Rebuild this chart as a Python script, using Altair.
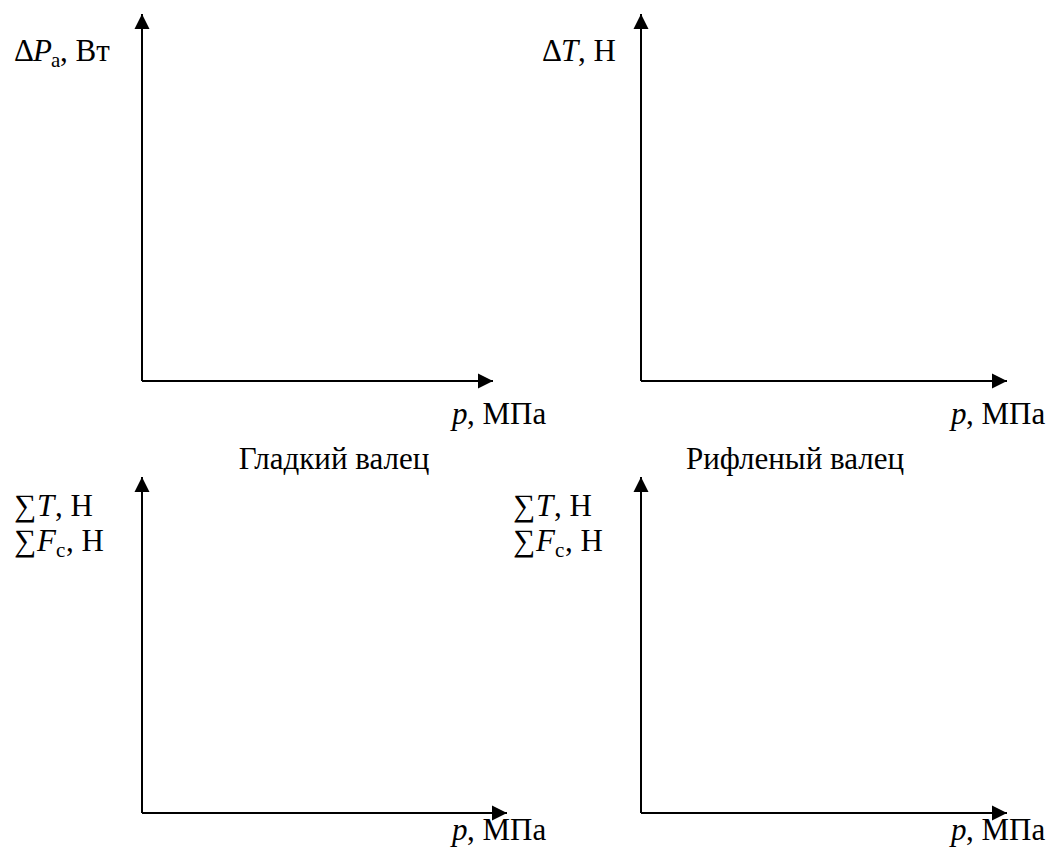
import altair as alt
import pandas as pd

W, H = 1056, 862
FONT = "'Liberation Serif', 'Times New Roman', 'DejaVu Serif', serif"
FS = 31   # main caption size
SUB = 21  # subscript size

# Two roll types shown as columns of the sheet
roll_titles = ["Гладкий валец", "Рифленый валец"]
title_x = [334, 795]
title_y = [469, 469]

# Blank coordinate frames: origin and the two arrow tips
frame_x0 = [142, 641, 142, 641]
frame_y0 = [381, 381, 813, 813]
frame_xtip = [493, 1007, 507, 1007]
frame_ytip = [14, 14, 477, 477]

# Axis captions, split into runs of upright / italic / subscript text
# (text, x, baseline, italic, font size)
caption_runs = [
    # ΔPa, Вт
    ("Δ", 14, 61, False, FS), ("P", 33, 61, True, FS), ("а", 51, 67, False, SUB), (", Вт", 60, 61, False, FS),
    # ΔT, Н
    ("Δ", 542, 61, False, FS), ("T", 561, 61, True, FS), (", Н", 578, 61, False, FS),
    # ∑T, Н / ∑Fc, Н  (left)
    ("∑", 14, 516, False, FS), ("T", 37, 516, True, FS), (", Н", 55, 516, False, FS),
    ("∑", 14, 551, False, FS), ("F", 37, 551, True, FS), ("с", 56, 557, False, SUB), (", Н", 66, 551, False, FS),
    # ∑T, Н / ∑Fc, Н  (right)
    ("∑", 513, 516, False, FS), ("T", 536, 516, True, FS), (", Н", 554, 516, False, FS),
    ("∑", 513, 551, False, FS), ("F", 536, 551, True, FS), ("с", 555, 557, False, SUB), (", Н", 565, 551, False, FS),
]

# p, МПа under every horizontal axis: right edge and baseline
p_label_end = [550, 1049, 550, 1049]
p_label_y = [424, 424, 840, 840]
for xe, yb in zip(p_label_end, p_label_y):
    caption_runs.append(("p", xe - 98, yb, True, FS))
    caption_runs.append((", МПа", xe - 83, yb, False, FS))

runs = pd.DataFrame(caption_runs, columns=["text", "x", "y", "italic", "size"])

frames = pd.DataFrame({"x0": frame_x0, "y0": frame_y0, "xt": frame_xtip, "yt": frame_ytip})
titles = pd.DataFrame({"text": roll_titles, "x": title_x, "y": title_y})

xs = alt.Scale(domain=[0, W], nice=False, zero=False)
ys = alt.Scale(domain=[0, H], nice=False, zero=False, reverse=True)


def X(field):
    return alt.X(field, type="quantitative", scale=xs, axis=None)


def Y(field):
    return alt.Y(field, type="quantitative", scale=ys, axis=None)


base = alt.Chart(frames)

y_axes = base.mark_rule(color="black", strokeWidth=2).encode(
    x=X("x0"), y=Y("y0"), y2="yt"
)
x_axes = base.mark_rule(color="black", strokeWidth=2).encode(
    x=X("x0"), x2="xt", y=Y("y0")
)
up_heads = base.mark_point(
    shape="M0,0L-0.5,1L0.5,1Z", size=900, filled=True, color="black", opacity=1, strokeWidth=0
).encode(x=X("x0"), y=Y("yt"))
right_heads = base.mark_point(
    shape="M0,0L-1,-0.5L-1,0.5Z", size=900, filled=True, color="black", opacity=1, strokeWidth=0
).encode(x=X("xt"), y=Y("y0"))

text_common = dict(font=FONT, color="black", align="left", baseline="alphabetic")

upright = alt.Chart(runs).transform_filter("!datum.italic").mark_text(**text_common).encode(
    x=X("x"), y=Y("y"), text="text:N", size=alt.Size("size:Q", scale=None)
)
italic = alt.Chart(runs).transform_filter("datum.italic").mark_text(fontStyle="italic", **text_common).encode(
    x=X("x"), y=Y("y"), text="text:N", size=alt.Size("size:Q", scale=None)
)
title_marks = alt.Chart(titles).mark_text(
    font=FONT, fontSize=FS, color="black", align="center", baseline="alphabetic"
).encode(x=X("x"), y=Y("y"), text="text:N")

chart = (
    alt.layer(y_axes, x_axes, up_heads, right_heads, upright, italic, title_marks)
    .properties(width=W, height=H, autosize=alt.AutoSizeParams(type="none"), padding=0, background="white")
    .configure_view(stroke=None)
)

chart.save("out.html", embed_options={"renderer": "svg", "actions": False})
